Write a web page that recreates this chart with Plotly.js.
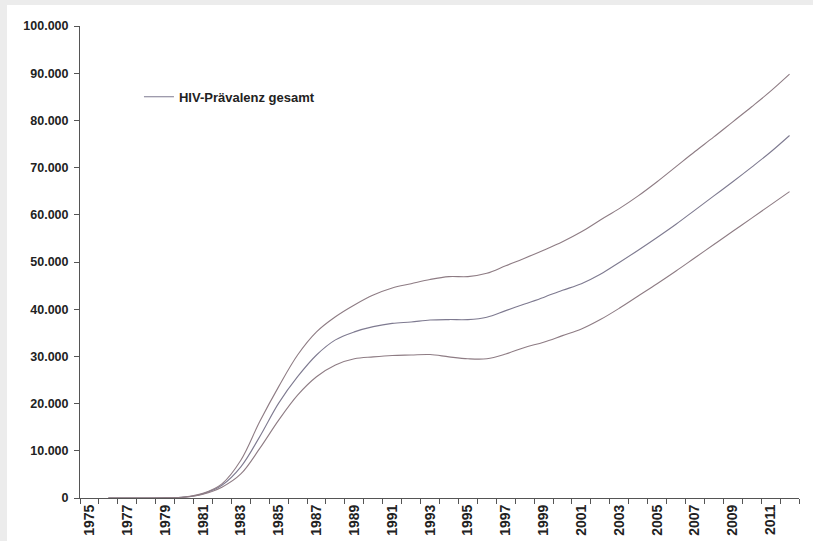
<!DOCTYPE html>
<html>
<head>
<meta charset="utf-8">
<script src="https://cdn.plot.ly/plotly-3.0.1.min.js"></script>
<style>
  html, body { margin: 0; padding: 0; background: #ececec; width: 813px; height: 541px; overflow: hidden; }
  #chart { position: absolute; left: 7px; top: 5px; width: 806px; height: 536px; background: #fff; }
</style>
</head>
<body>
<div id="chart"></div>
<script>
var years = ["1975","1976","1977","1978","1979","1980","1981","1982","1983","1984",
             "1985","1986","1987","1988","1989","1990","1991","1992","1993","1994",
             "1995","1996","1997","1998","1999","2000","2001","2002","2003","2004",
             "2005","2006","2007","2008","2009","2010","2011","2012"];

var tickLabels = ["1975","","1977","","1979","","1981","","1983","",
                  "1985","","1987","","1989","","1991","","1993","",
                  "1995","","1997","","1999","","2001","","2003","",
                  "2005","","2007","","2009","","2011",""];

var upperValues = [null,0,0,0,50,200,1000,3000,8000,16200,
                   23600,30300,35200,38400,40900,43000,44500,45400,46300,46900,
                   46900,47600,49200,50800,52500,54300,56400,58900,61300,64000,
                   67000,70200,73400,76500,79700,82900,86200,89800];

var middleValues = [null,0,0,0,40,180,900,2700,6600,13000,
                    20100,25700,30300,33500,35200,36300,37000,37300,37700,37800,
                    37800,38300,39700,41100,42500,44000,45400,47400,49900,52500,
                    55200,58000,61000,64000,67000,70100,73300,76800];

var lowerValues = [null,0,0,0,30,150,800,2300,5100,10500,
                   16500,21800,25700,28200,29500,29900,30200,30300,30400,29900,
                   29500,29500,30500,31900,33000,34400,35800,37800,40200,42800,
                   45400,48100,50900,53700,56500,59300,62100,64900];

var seriesName = "HIV-Prävalenz gesamt";

var traces = [
  { x: years, y: middleValues, type: "scatter", mode: "lines", name: seriesName,
    line: { color: "#7e7a90", width: 1.1, shape: "spline", smoothing: 1 }, showlegend: true },
  { x: years, y: upperValues, type: "scatter", mode: "lines", name: seriesName,
    line: { color: "#8e7c84", width: 1.1, shape: "spline", smoothing: 1 }, showlegend: false },
  { x: years, y: lowerValues, type: "scatter", mode: "lines", name: seriesName,
    line: { color: "#8e7c84", width: 1.1, shape: "spline", smoothing: 1 }, showlegend: false }
];

var fontFamily = "Arial, 'Liberation Sans', sans-serif";

var layout = {
  width: 806, height: 536,
  margin: { l: 73, r: 14, t: 21, b: 43 },
  paper_bgcolor: "#ffffff",
  plot_bgcolor: "#ffffff",
  separators: ",.",
  showlegend: true,
  legend: {
    x: 0.082, y: 0.85, xanchor: "left", yanchor: "middle",
    bgcolor: "rgba(0,0,0,0)",
    font: { family: fontFamily, size: 13, color: "#222", weight: "bold" },
    itemwidth: 30
  },
  xaxis: {
    type: "category",
    tickmode: "array", tickvals: years, ticktext: tickLabels,
    tickson: "boundaries",
    ticks: "outside", ticklen: 5, tickcolor: "#555", tickwidth: 1,
    tickangle: -90,
    tickfont: { family: fontFamily, size: 14, color: "#222", weight: "bold" },
    showline: true, linecolor: "#555", linewidth: 1,
    showgrid: false, zeroline: false,
    range: [-0.5, 37.5]
  },
  yaxis: {
    range: [0, 100000],
    dtick: 10000,
    tickformat: ",d",
    ticks: "outside", ticklen: 5, tickcolor: "#555", tickwidth: 1,
    tickfont: { family: fontFamily, size: 12.5, color: "#222", weight: "bold" },
    ticklabelstandoff: 3,
    showline: true, linecolor: "#555", linewidth: 1,
    showgrid: false, zeroline: false
  }
};

Plotly.newPlot("chart", traces, layout, { staticPlot: true, displayModeBar: false });
</script>
</body>
</html>
